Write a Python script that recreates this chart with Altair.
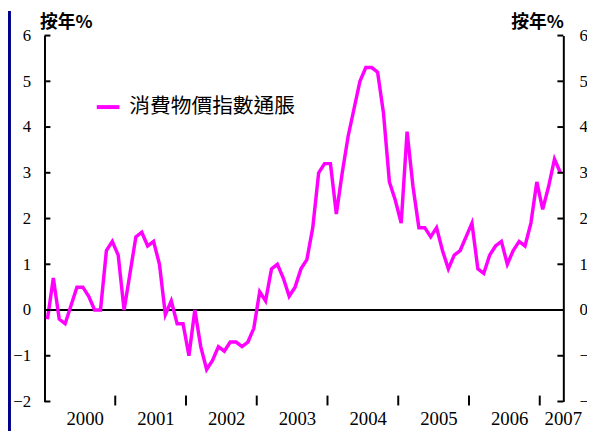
import altair as alt
import pandas as pd

# Year-on-year CPI inflation, monthly, Jan 2000 - Apr 2007 (%)
cpi = [
    -0.2, 0.7, -0.2, -0.3, 0.1, 0.5, 0.5, 0.3, 0.0, 0.0, 1.3, 1.5,   # 2000
    1.2, 0.0, 0.8, 1.6, 1.7, 1.4, 1.5, 1.0, -0.1, 0.2, -0.3, -0.3,   # 2001
    -1.0, 0.0, -0.8, -1.3, -1.1, -0.8, -0.9, -0.7, -0.7, -0.8, -0.7, -0.4,  # 2002
    0.4, 0.2, 0.9, 1.0, 0.7, 0.3, 0.5, 0.9, 1.1, 1.8, 3.0, 3.2,      # 2003
    3.2, 2.1, 3.0, 3.8, 4.4, 5.0, 5.3, 5.3, 5.2, 4.3, 2.8, 2.4,      # 2004
    1.9, 3.9, 2.7, 1.8, 1.8, 1.6, 1.8, 1.3, 0.9, 1.2, 1.3, 1.6,      # 2005
    1.9, 0.9, 0.8, 1.2, 1.4, 1.5, 1.0, 1.3, 1.5, 1.4, 1.9, 2.8,      # 2006
    2.2, 2.7, 3.3, 3.0,                                              # 2007
]
series_name = "消費物價指數通脹"
axis_title = "按年%"
year_labels = ["2000", "2001", "2002", "2003", "2004", "2005", "2006", "2007"]
y_ticks = [-2, -1, 0, 1, 2, 3, 4, 5, 6]

n = len(cpi)
months = list(range(n))
month_bounds = [m - 0.5 for m in range(n + 1)]
year_bounds = [12 * k - 0.5 for k in range(1, 8)]
year_label_pos = [12 * k + 6.4 for k in range(7)] + [n - 0.5]

W, H = 526, 371
SERIF = "Liberation Serif"
CJK = "Noto Sans CJK TC"

xscale = alt.Scale(domain=[-0.5, n - 0.5], nice=False, zero=False)
yscale = alt.Scale(domain=[-2, 6], nice=False, zero=False)

line_df = pd.DataFrame({"m": months, "v": cpi, "s": [series_name] * n})
ytick_df = pd.DataFrame({"v": y_ticks})
yb_df = pd.DataFrame({"m": year_bounds})
lab_df = pd.DataFrame({"m": year_label_pos, "t": year_labels})

strip = alt.Chart(pd.DataFrame({"a": [0]})).mark_rect(color="#00008B").encode(
    x=alt.value(-37), x2=alt.value(-34), y=alt.value(-25), y2=alt.value(H + 30)
)

zero = alt.Chart(pd.DataFrame({"v": [0]})).mark_rule(color="black", strokeWidth=2).encode(
    y=alt.Y("v:Q", scale=yscale, axis=None)
)

line = alt.Chart(line_df).mark_line(strokeWidth=3.5, color="#FF00FF").encode(
    x=alt.X("m:Q", scale=xscale,
            axis=alt.Axis(values=month_bounds, labels=False, title=None, tickSize=4,
                          tickWidth=2, tickColor="black", domainWidth=2,
                          domainColor="black", grid=False)),
    y=alt.Y("v:Q", scale=yscale,
            axis=alt.Axis(orient="left", values=y_ticks, ticks=False, tickSize=0,
                          labelPadding=14, labelFont=SERIF, labelFontSize=17,
                          labelColor="black", domainWidth=2, domainColor="black",
                          grid=False, title=axis_title, titleAngle=0, titleX=-5,
                          titleY=-8, titleAlign="left", titleBaseline="alphabetic",
                          titleFont=CJK, titleFontSize=18, titleFontWeight="bold",
                          titleColor="black")),
    color=alt.Color("s:N", scale=alt.Scale(domain=[series_name], range=["#FF00FF"]),
                    legend=alt.Legend(orient="none", legendX=51, legendY=59, title=None,
                                      symbolType="stroke", symbolSize=529,
                                      symbolStrokeWidth=4, labelFont=CJK,
                                      labelFontSize=21, labelColor="black",
                                      labelLimit=400, labelOffset=8, padding=0)),
)

lticks = alt.Chart(ytick_df).mark_rule(color="black", strokeWidth=2).encode(
    y=alt.Y("v:Q", scale=yscale, axis=None), x=alt.value(0), x2=alt.value(6)
)

rticks = alt.Chart(ytick_df).mark_rule(color="black", strokeWidth=2).encode(
    y=alt.Y("v:Q", scale=yscale,
            axis=alt.Axis(orient="right", values=y_ticks, ticks=False, tickSize=0,
                          labelPadding=16, labelFont=SERIF, labelFontSize=17,
                          labelColor="black", domainWidth=2, domainColor="black",
                          grid=False, title=axis_title, titleAngle=0, titleX=0,
                          titleY=-8, titleAlign="right", titleBaseline="alphabetic",
                          titleFont=CJK, titleFontSize=18, titleFontWeight="bold",
                          titleColor="black")),
    x=alt.value(W - 6), x2=alt.value(W),
)

yticks_major = alt.Chart(yb_df).mark_rule(color="black", strokeWidth=2).encode(
    x=alt.X("m:Q", scale=xscale, axis=None), y=alt.value(H - 6), y2=alt.value(H + 4)
)

labels = alt.Chart(lab_df).mark_text(font=SERIF, fontSize=19, color="black",
                                     align="center", baseline="alphabetic").encode(
    x=alt.X("m:Q", scale=xscale, axis=None), y=alt.value(395), text="t:N"
)

chart = alt.layer(
    strip, zero, line, lticks, rticks, yticks_major, labels
).resolve_axis(y="independent").properties(
    width=W, height=H,
    autosize=alt.AutoSizeParams(type="none"),
    padding={"left": 37, "top": 25, "right": 24, "bottom": 30},
    background="white",
).configure_view(stroke=None)

chart.save("out.html", embed_options={"renderer": "svg", "actions": False})
